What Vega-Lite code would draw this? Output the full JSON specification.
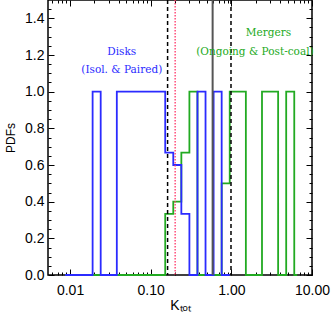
{
  "$schema": "https://vega.github.io/schema/vega-lite/v6.json",
  "width": 264,
  "height": 275,
  "autosize": "none",
  "padding": {"left": 48, "top": 0, "right": 20, "bottom": 42},
  "config": {
    "view": {"stroke": "#000000", "strokeWidth": 1.5},
    "axis": {
      "domain": false,
      "grid": false,
      "labelFlush": false,
      "labelOverlap": false,
      "tickColor": "#000000",
      "tickWidth": 1,
      "labelFont": "Liberation Sans",
      "labelFontSize": 14,
      "labelColor": "#000000",
      "titleFont": "Liberation Sans",
      "titleFontSize": 14,
      "titleFontWeight": "normal",
      "titleColor": "#000000"
    }
  },
  "resolve": {"axis": {"x": "independent", "y": "independent"}},
  "layer": [
    {
      "data": {"values": [
        {"k": 0.0087, "pdf": 0},
        {"k": 0.1514, "pdf": 0.333},
        {"k": 0.1905, "pdf": 0.4},
        {"k": 0.2399, "pdf": 0.667},
        {"k": 0.302, "pdf": 1},
        {"k": 0.3802, "pdf": 0},
        {"k": 0.7586, "pdf": 0.5},
        {"k": 0.955, "pdf": 1},
        {"k": 1.5136, "pdf": 0},
        {"k": 2.3988, "pdf": 1},
        {"k": 3.8019, "pdf": 0},
        {"k": 4.7863, "pdf": 1},
        {"k": 6.0256, "pdf": 0},
        {"k": 6.55, "pdf": 0}
      ]},
      "mark": {"type": "line", "interpolate": "step-after", "color": "#22aa22", "strokeWidth": 1.8},
      "encoding": {
        "x": {"field": "k", "type": "quantitative",
              "scale": {"type": "log", "domain": [0.00533, 10], "nice": false},
              "axis": {"orient": "bottom", "values": [0.01, 0.1, 1, 10], "format": ".2f",
                       "tickSize": -6, "labelPadding": 14, "title": "Kₜₒₜ", "titlePadding": 1}},
        "y": {"field": "pdf", "type": "quantitative",
              "scale": {"domain": [0, 1.5], "nice": false, "zero": false},
              "axis": {"orient": "left", "values": [0, 0.2, 0.4, 0.6, 0.8, 1.0, 1.2, 1.4], "format": ".1f",
                       "tickSize": -6, "labelPadding": 10, "title": "PDFs", "titleFontSize": 12, "titlePadding": 7}}
      }
    },
    {
      "data": {"values": [
        {"k": 0.0087, "pdf": 0},
        {"k": 0.01905, "pdf": 1},
        {"k": 0.02399, "pdf": 0},
        {"k": 0.03802, "pdf": 1},
        {"k": 0.1514, "pdf": 0.667},
        {"k": 0.1905, "pdf": 0.6},
        {"k": 0.2399, "pdf": 0.333},
        {"k": 0.302, "pdf": 0},
        {"k": 0.3802, "pdf": 1},
        {"k": 0.4786, "pdf": 0},
        {"k": 0.6026, "pdf": 1},
        {"k": 0.7586, "pdf": 0},
        {"k": 0.955, "pdf": 0}
      ]},
      "mark": {"type": "line", "interpolate": "step-after", "color": "#2b2bff", "strokeWidth": 1.8},
      "encoding": {
        "x": {"field": "k", "type": "quantitative",
              "scale": {"type": "log", "domain": [0.00533, 10], "nice": false},
              "axis": {"orient": "bottom", "values": [0.006,0.007,0.008,0.009,0.02,0.03,0.04,0.05,0.06,0.07,0.08,0.09,0.2,0.3,0.4,0.5,0.6,0.7,0.8,0.9,2,3,4,5,6,7,8,9],
                       "tickSize": -3, "labels": false, "title": null}},
        "y": {"field": "pdf", "type": "quantitative",
              "scale": {"domain": [0, 1.5], "nice": false, "zero": false},
              "axis": {"orient": "left", "values": [0.05,0.1,0.15,0.25,0.3,0.35,0.45,0.5,0.55,0.65,0.7,0.75,0.85,0.9,0.95,1.05,1.1,1.15,1.25,1.3,1.35,1.45],
                       "tickSize": -3, "labels": false, "title": null}}
      }
    },
    {
      "data": {"values": [{"k": 0.162}, {"k": 0.99}]},
      "mark": {"type": "rule", "color": "#000000", "strokeWidth": 1.5, "strokeDash": [4, 3]},
      "encoding": {
        "x": {"field": "k", "type": "quantitative",
              "scale": {"type": "log", "domain": [0.00533, 10], "nice": false},
              "axis": {"orient": "top", "values": [0.01, 0.1, 1, 10], "tickSize": -6, "labels": false, "title": null}}
      }
    },
    {
      "data": {"values": [{"k": 0.201}]},
      "mark": {"type": "rule", "color": "#ff3366", "strokeWidth": 1.3, "strokeDash": [1.5, 1.5]},
      "encoding": {
        "x": {"field": "k", "type": "quantitative",
              "scale": {"type": "log", "domain": [0.00533, 10], "nice": false},
              "axis": {"orient": "top", "values": [0.006,0.007,0.008,0.009,0.02,0.03,0.04,0.05,0.06,0.07,0.08,0.09,0.2,0.3,0.4,0.5,0.6,0.7,0.8,0.9,2,3,4,5,6,7,8,9],
                       "tickSize": -3, "labels": false, "title": null}}
      }
    },
    {
      "data": {"values": [{"k": 0.586}]},
      "mark": {"type": "rule", "color": "#555555", "strokeWidth": 2},
      "encoding": {
        "x": {"field": "k", "type": "quantitative",
              "scale": {"type": "log", "domain": [0.00533, 10], "nice": false}, "axis": null}
      }
    },
    {
      "data": {"values": [
        {"k": 0.0438, "pdf": 1.217, "label": "Disks"},
        {"k": 0.0438, "pdf": 1.117, "label": "(Isol. & Paired)"}
      ]},
      "mark": {"type": "text", "color": "#2b2bff", "font": "DejaVu Serif", "fontSize": 10.5},
      "encoding": {
        "x": {"field": "k", "type": "quantitative",
              "scale": {"type": "log", "domain": [0.00533, 10], "nice": false}, "axis": null},
        "y": {"field": "pdf", "type": "quantitative",
              "scale": {"domain": [0, 1.5], "nice": false, "zero": false},
              "axis": {"orient": "right", "values": [0, 0.2, 0.4, 0.6, 0.8, 1.0, 1.2, 1.4], "tickSize": -6, "labels": false, "title": null}},
        "text": {"field": "label"}
      }
    },
    {
      "data": {"values": [
        {"k": 2.884, "pdf": 1.32, "label": "Mergers"},
        {"k": 1.96, "pdf": 1.214, "label": "(Ongoing & Post-coal)"}
      ]},
      "mark": {"type": "text", "color": "#22aa22", "font": "DejaVu Serif", "fontSize": 10.5},
      "encoding": {
        "x": {"field": "k", "type": "quantitative",
              "scale": {"type": "log", "domain": [0.00533, 10], "nice": false}, "axis": null},
        "y": {"field": "pdf", "type": "quantitative",
              "scale": {"domain": [0, 1.5], "nice": false, "zero": false},
              "axis": {"orient": "right", "values": [0.05,0.1,0.15,0.25,0.3,0.35,0.45,0.5,0.55,0.65,0.7,0.75,0.85,0.9,0.95,1.05,1.1,1.15,1.25,1.3,1.35,1.45],
                       "tickSize": -3, "labels": false, "title": null}},
        "text": {"field": "label"}
      }
    }
  ]
}
